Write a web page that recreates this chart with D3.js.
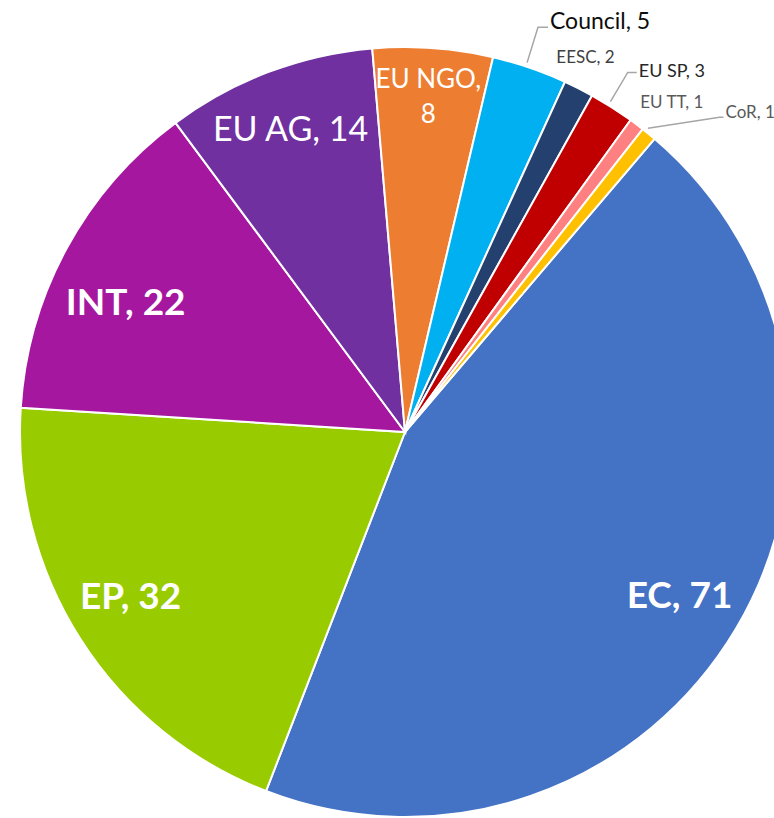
<!DOCTYPE html>
<html lang="en">
<head>
	<meta charset="UTF-8">
	<title>Pie</title>
	<style>
		body { margin: 0; background: #fff; }
		svg { display: block; font-family: Lato, "Noto Sans", sans-serif; }
		.slice { stroke: #fff; stroke-width: 2px; }
		.leader { fill: none; stroke: #a6a6a6; stroke-width: 1.5px; }
	</style>
	<script src="https://cdn.jsdelivr.net/npm/d3@7"></script>
</head>
<body>
	<div class="wrap"></div>
	<script>
	  // data
	  var categories = ["EC", "EP", "INT", "EU AG", "EU NGO", "Council", "EESC", "EU SP", "EU TT", "CoR"];
	  var values     = [71, 32, 22, 14, 8, 5, 2, 3, 1, 1];
	  var colors     = ["#4472c4", "#99cc00", "#a5179f", "#7030a0", "#ed7d31", "#00b0f0", "#24406f", "#c00000", "#ff8080", "#ffc000"];

	  var width = 774, height = 818,
		  cx = 405, cy = 432, radius = 385;

	  var rot = 40.4 * Math.PI / 180;  // first slice angle

	  // inside label styles (da = angle tweak in deg, k = radius fraction)
	  var inside = {
		"EC":     {size: 37, weight: "bold", da: 0, k: 0.83},
		"EP":     {size: 37, weight: "bold", da: 1.8, k: 0.83},
		"INT":    {size: 37, weight: "bold", da: -3.6, k: 0.80},
		"EU AG":  {size: 34, weight: "normal", da: 0, k: 0.84},
		"EU NGO": {size: 26, weight: "normal", da: 0, k: 0.83, wrap: true}
	  };
	  // outside labels: polar tweak (deg), radius, horizontal leader piece
	  var outside = {
		"Council": {da: -0.7, r: 426, size: 23, color: "#0d0d0d", leader: 10, dy: 2},
		"EESC":    {da: -1.1, r: 416, size: 17, color: "#404040"},
		"EU SP":   {da: -0.7, r: 423, size: 18, color: "#262626", leader: 9, dy: 5},
		"EU TT":   {da: 2.0,  r: 424, size: 17, color: "#595959"},
		"CoR":     {da: 5.7,  r: 445, size: 17, color: "#595959", leader: 4, dy: 1}
	  };

	  var data = categories.map(function(c, i) { return {name: c, value: values[i], color: colors[i]}; });

	  var pie = d3.pie()
		.sort(null)
		.value(function(d) { return d.value; })
		.startAngle(rot)
		.endAngle(rot + 2 * Math.PI);

	  var arc = d3.arc().innerRadius(0).outerRadius(radius);

	  function polar(r, a) { return [r * Math.sin(a), -r * Math.cos(a)]; }

	  var svg = d3.select(".wrap").append("svg")
		  .attr("width", width)
		  .attr("height", height)
		  .append("g")
		  .attr("transform", "translate(" + cx + "," + cy + ")");

	  var arcs = pie(data);

	  svg.selectAll("path.slice").data(arcs).enter().append("path")
		  .attr("class", "slice")
		  .attr("fill", function(d) { return d.data.color; })
		  .attr("d", arc);

	  // inside labels
	  arcs.filter(function(d) { return inside[d.data.name]; }).forEach(function(d) {
		var s = inside[d.data.name];
		var mid = (d.startAngle + d.endAngle) / 2 + s.da * Math.PI / 180;
		var p = polar(radius * s.k, mid);
		var t = svg.append("text")
			.attr("text-anchor", "middle")
			.attr("fill", "#fff")
			.attr("font-size", s.size)
			.attr("font-weight", s.weight);
		if (s.wrap) {
		  t.append("tspan").attr("x", p[0]).attr("y", p[1] - 25).text(d.data.name + ",");
		  t.append("tspan").attr("x", p[0]).attr("y", p[1] + 10).text(d.value);
		} else {
		  t.attr("x", p[0]).attr("y", p[1]).attr("dy", "0.35em")
			.text(d.data.name + ", " + d.value);
		}
	  });

	  // outside labels with leader lines
	  arcs.filter(function(d) { return outside[d.data.name]; }).forEach(function(d) {
		var o = outside[d.data.name];
		var mid = (d.startAngle + d.endAngle) / 2;
		var p = polar(o.r, mid + o.da * Math.PI / 180);
		var txt = d.data.name + ", " + d.value;
		if (o.leader) {
		  var s = polar(radius + 4, mid - 0.6 * Math.PI / 180);
		  svg.append("polyline")
			  .attr("class", "leader")
			  .attr("points", [s, p, [p[0] + o.leader, p[1]]].map(function(q) { return q.join(","); }).join(" "));
		  svg.append("text")
			  .attr("x", p[0] + o.leader + 2)
			  .attr("y", p[1] + o.dy)
			  .attr("font-size", o.size)
			  .attr("fill", o.color)
			  .text(txt);
		} else {
		  svg.append("text")
			  .attr("x", p[0])
			  .attr("y", p[1])
			  .attr("dy", "0.35em")
			  .attr("text-anchor", "middle")
			  .attr("font-size", o.size)
			  .attr("fill", o.color)
			  .text(txt);
		}
	  });
	</script>
</body>
</html>
